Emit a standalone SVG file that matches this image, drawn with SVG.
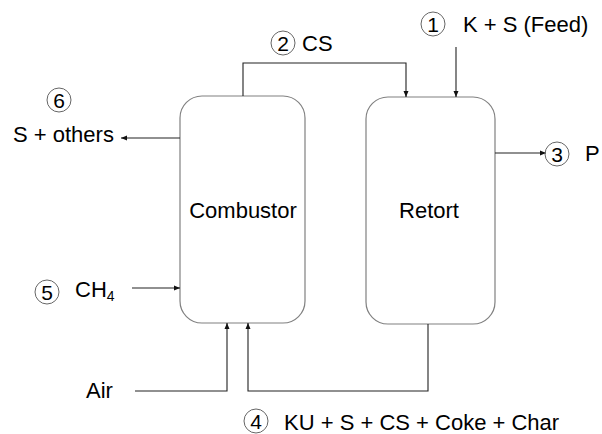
<svg xmlns="http://www.w3.org/2000/svg" width="602" height="434" viewBox="0 0 602 434">
<defs>
<marker id="arr" markerWidth="6" markerHeight="6" refX="6" refY="3" orient="auto" markerUnits="userSpaceOnUse">
<path d="M0,0.5 L6,3 L0,5.5 z" fill="#111"/>
</marker>
<style>
.box{fill:#fff;stroke:#808080;stroke-width:1.2}
.con{fill:none;stroke:#222;stroke-width:1.1;marker-end:url(#arr)}
.num{fill:none;stroke:#666;stroke-width:1}
text{font-family:"Liberation Sans",Arial,sans-serif;font-size:22px;fill:#000}
.d{font-size:21px;text-anchor:middle}
.c{text-anchor:middle}
</style>
</defs>
<rect width="602" height="434" fill="#fff"/>
<g id="combustor">
<rect class="box" x="180" y="96" width="125" height="227" rx="22" ry="22"/>
<text class="c" x="243" y="218">Combustor</text>
</g>
<g id="retort">
<rect class="box" x="366" y="97" width="129" height="227" rx="22" ry="22"/>
<text class="c" x="429" y="218">Retort</text>
</g>
<g id="connectors">
<path class="con" d="M243,96 V63 H406 V97"/>
<path class="con" d="M456,47 V97"/>
<path class="con" d="M495,153 H546"/>
<path class="con" d="M180,138 H121"/>
<path class="con" d="M132,288 H180"/>
<path class="con" d="M135,391 H227 V323"/>
<path class="con" d="M428,324 V391 H248 V323"/>
</g>
<g id="stream1">
<circle class="num" cx="433" cy="24" r="12"/>
<text class="d" x="433" y="31.5">1</text>
<text x="463" y="32">K + S (Feed)</text>
</g>
<g id="stream2">
<circle class="num" cx="283" cy="43" r="12"/>
<text class="d" x="283" y="50.5">2</text>
<text x="302" y="51">CS</text>
</g>
<g id="stream3">
<circle class="num" cx="557" cy="154" r="12"/>
<text class="d" x="557" y="161.5">3</text>
<text x="585" y="161">P</text>
</g>
<g id="stream4">
<circle class="num" cx="256" cy="421" r="12"/>
<text class="d" x="256" y="428.5">4</text>
<text x="284" y="430">KU + S + CS + Coke + Char</text>
</g>
<g id="stream5">
<circle class="num" cx="47" cy="292" r="12"/>
<text class="d" x="47" y="299.5">5</text>
<text x="75" y="297">CH<tspan font-size="14" dy="4">4</tspan></text>
</g>
<g id="stream6">
<circle class="num" cx="59" cy="100" r="12"/>
<text class="d" x="59" y="107.5">6</text>
<text x="13" y="142">S + others</text>
</g>
<g id="air">
<text x="86" y="398">Air</text>
</g>
</svg>
